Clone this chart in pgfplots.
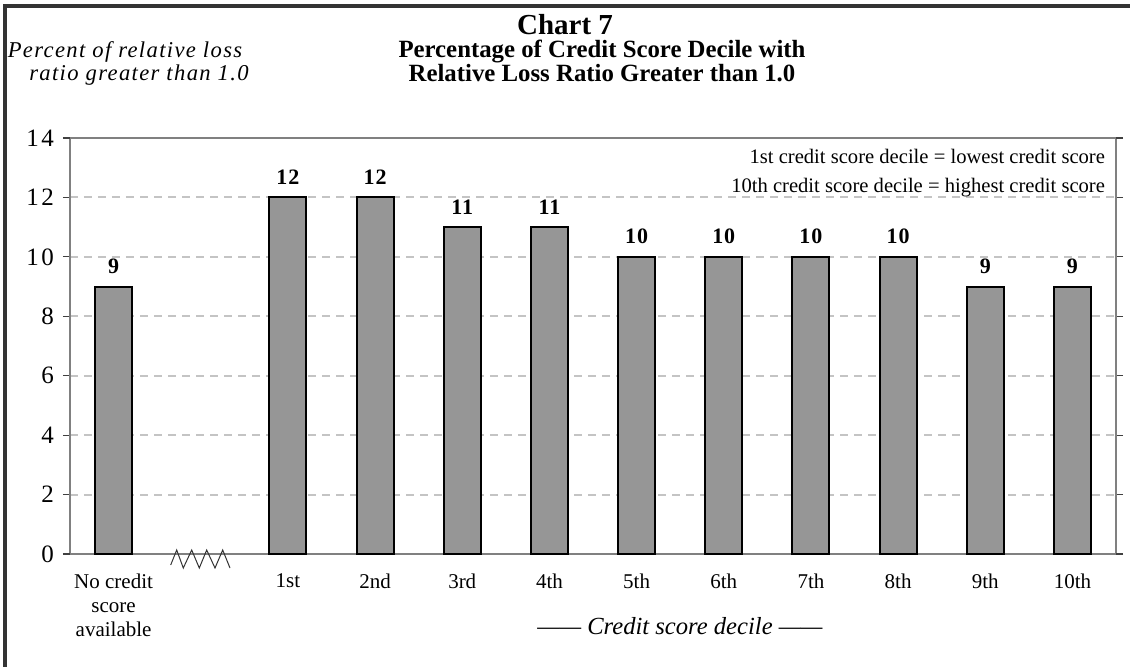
\documentclass[border=0pt]{standalone}
\usepackage{pgfplots}
\pgfplotsset{compat=1.18}
\usepackage{fontspec}
\setmainfont{Liberation Serif}
\definecolor{barfill}{HTML}{969696}
\definecolor{gridc}{HTML}{C4C4C4}
\definecolor{framec}{HTML}{333333}
\definecolor{axisc}{HTML}{808080}
\begin{document}
\begin{tikzpicture}
\useasboundingbox (0pt,0pt) rectangle (565pt,-333pt);
\draw[framec, line width=1.6pt] (2.5pt,-334pt) -- (2.5pt,-3pt) -- (566pt,-3pt);
\begin{axis}[
  at={(35pt,-277pt)}, anchor=south west,
  scale only axis, width=523pt, height=208pt,
  xmin=-0.5, xmax=11.5, ymin=0, ymax=14,
  ybar, bar width=18.5pt,
  /pgf/number format/assume math mode=true,
  axis line style={axisc, line width=1pt},
  tick align=outside,
  major tick length=3.5pt, minor tick length=2.5pt,
  tick style={black!75, line width=0.6pt},
  xtick=\empty,
  minor xtick={-0.5,0.5,...,11.5},
  extra x ticks={0,1,...,11},
  extra x tick labels={{No credit\\score\\available},{},1st,2nd,3rd,4th,5th,6th,7th,8th,9th,10th},
  extra x tick style={tick style={draw=none}, grid=none,
     xticklabel style={align=center, anchor=north, yshift=-3pt,
       font=\fontsize{10.5}{12}\selectfont}},
  ytick={2,4,...,12},
  extra y ticks={0,14},
  extra y tick style={grid=none},
  yticklabel style={font=\fontsize{12.5}{14}\selectfont\addfontfeature{LetterSpace=10}, xshift=-1pt},
  ymajorgrids,
  grid style={gridc, dash pattern=on 4pt off 3pt, line width=1pt},
  nodes near coords,
  every node near coord/.append style={font=\bfseries\fontsize{11}{13}\selectfont\addfontfeature{LetterSpace=4}, yshift=2.5pt, black},
]
\addplot[fill=barfill, draw=black, line width=1pt] coordinates {
  (0,9) (2,12) (3,12) (4,11) (5,11) (6,10) (7,10) (8,10) (9,10) (10,9) (11,9)
};
\end{axis}
\begin{scope}[x=0.5pt, y=-0.5pt]
\draw[black!80, line width=0.5pt] (170.7,565) -- (176.7,550) -- (183.3,568) -- (191.7,550) -- (199.3,568) -- (206.7,550) -- (215,568) -- (222.7,550) -- (230,568);
\node[anchor=base, font=\bfseries\fontsize{14.5}{17}\selectfont] at (565,34) {Chart 7};
\node[anchor=base, font=\bfseries\fontsize{12.4}{14}\selectfont] at (602,57) {Percentage of Credit Score Decile with};
\node[anchor=base, font=\bfseries\fontsize{12.4}{14}\selectfont] at (602,81) {Relative Loss Ratio Greater than 1.0};
\node[anchor=base, font=\itshape\fontsize{11.3}{13}\selectfont\addfontfeature{LetterSpace=6}] at (125,57) {Percent of relative loss};
\node[anchor=base, font=\itshape\fontsize{11.3}{13}\selectfont\addfontfeature{LetterSpace=6}] at (139,80) {ratio greater than 1.0};
\node[anchor=base east, font=\fontsize{10.3}{12}\selectfont] at (1112,163) {1st credit score decile = lowest credit score};
\node[anchor=base east, font=\fontsize{10.3}{12}\selectfont] at (1112,192) {10th credit score decile = highest credit score};
\node[anchor=base, font=\itshape\fontsize{12.3}{14}\selectfont] at (680,634) {—— Credit score decile ——};
\end{scope}
\end{tikzpicture}
\end{document}
